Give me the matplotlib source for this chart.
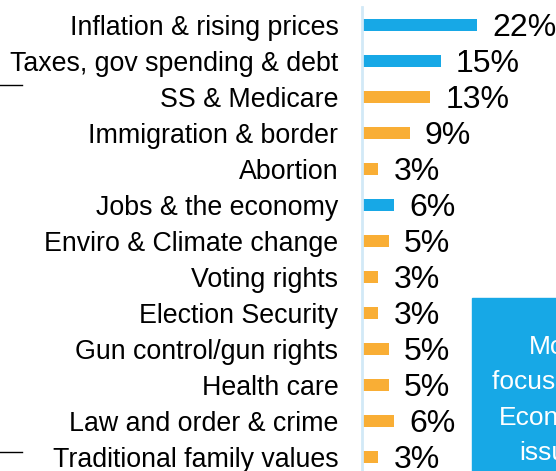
import matplotlib
matplotlib.use("Agg")
import matplotlib.pyplot as plt
from matplotlib.lines import Line2D
from matplotlib.patches import Rectangle

plt.rcParams['font.family'] = ['Liberation Sans', 'DejaVu Sans']

# data, top to bottom
issues = [
    "Inflation & rising prices",
    "Taxes, gov spending & debt",
    "SS & Medicare",
    "Immigration & border",
    "Abortion",
    "Jobs & the economy",
    "Enviro & Climate change",
    "Voting rights",
    "Election Security",
    "Gun control/gun rights",
    "Health care",
    "Law and order & crime",
    "Traditional family values",
]
shares = [22, 15, 13, 9, 3, 6, 5, 3, 3, 5, 5, 6, 3]
economic = [True, True, False, False, False, True,
            False, False, False, False, False, False, False]
callout = "Most\nfocused on\nEconomic\nissues"

BLUE = '#17a8e6'
ORANGE = '#f9ae35'

W, H = 556, 471
fig = plt.figure(figsize=(W / 100, H / 100), dpi=100)

# axes: x from 362px to right edge, 5.2 px per percent
x0 = 362
ax = fig.add_axes([x0 / W, 0, (W - x0) / W, 464 / H])
ax.set_xlim(0, (W - x0) / 5.2)
ax.set_ylim(len(issues) - 1 + 14 / 36, -0.5)

ypos = list(range(len(issues)))
colors = [BLUE if e else ORANGE for e in economic]
ax.barh(ypos, shares, height=0.36, color=colors, left=0.15)

for y, v in zip(ypos, shares):
    ax.text(v + 3.1, y, f"{v}%", va='center_baseline', ha='left',
            fontsize=23, color='black')

ax.set_yticks(ypos)
ax.set_yticklabels(issues, fontsize=19.25)
ax.tick_params(axis='y', length=0, pad=17)
ax.set_xticks([])
for s in ['top', 'right', 'bottom']:
    ax.spines[s].set_visible(False)
ax.spines['left'].set_color('#d2e9f7')
ax.spines['left'].set_linewidth(2)

# callout box
fig.patches.append(Rectangle((472 / W, 0), 1, (H - 298) / H,
                             transform=fig.transFigure, color=BLUE, zorder=5))
fig.text(557 / W, 1 - 400 / H, callout, color='white', fontsize=19,
         ha='center', va='center', linespacing=1.58, zorder=6)

# leftover bracket ticks on the left edge
for yy in [85, 452]:
    fig.add_artist(Line2D([0, 22 / W], [1 - yy / H, 1 - yy / H],
                          color='black', linewidth=1))

fig.savefig('out.png', dpi=100)
